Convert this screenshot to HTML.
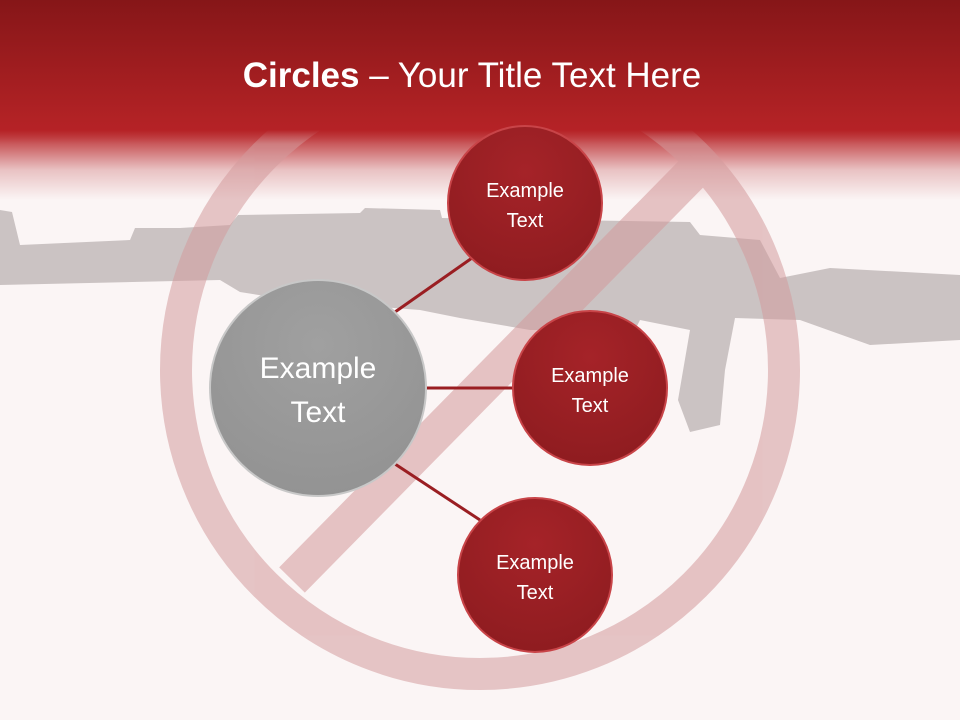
<!DOCTYPE html>
<html><head><meta charset="utf-8"><style>
body{margin:0;width:960px;height:720px;overflow:hidden;background:#fbf5f5;font-family:"Liberation Sans",sans-serif}
</style></head><body>
<svg width="960" height="720" viewBox="0 0 960 720" style="position:absolute;left:0;top:0">
<defs>
<linearGradient id="hd" x1="0" y1="0" x2="0" y2="200" gradientUnits="userSpaceOnUse">
<stop offset="0" stop-color="#861618"/>
<stop offset="0.65" stop-color="#b52226"/>
<stop offset="0.7" stop-color="#c44a4d"/>
<stop offset="0.85" stop-color="#e9c2c3"/>
<stop offset="1" stop-color="#fbf5f5"/>
</linearGradient>
<linearGradient id="hd2" x1="0" y1="0" x2="0" y2="200" gradientUnits="userSpaceOnUse">
<stop offset="0" stop-color="#861618"/>
<stop offset="0.6" stop-color="#b22225" stop-opacity="1"/>
<stop offset="0.65" stop-color="#b52226" stop-opacity="1"/>
<stop offset="0.72" stop-color="#c44a4d" stop-opacity="0"/>
</linearGradient>
<radialGradient id="rg" cx="0.5" cy="0.3" r="0.7">
<stop offset="0" stop-color="#a52328"/>
<stop offset="1" stop-color="#8f1c20"/>
</radialGradient>
<radialGradient id="gg" cx="0.5" cy="0.3" r="0.7">
<stop offset="0" stop-color="#a0a0a0"/>
<stop offset="1" stop-color="#939393"/>
</radialGradient>
</defs>
<rect x="0" y="0" width="960" height="200" fill="url(#hd)"/>
<g fill="#cbc3c3">
<path d="M0 210 L12 212 L20 245 L130 240 L135 228 L180 228 L230 225 L238 215 L360 213 L365 208 L440 210 L442 218 L690 222 L700 235 L760 240 L780 278 L830 268 L960 275 L960 340 L870 345 L800 320 L735 318 L725 370 L720 425 L690 432 L678 400 L690 330 L640 320 L630 340 L600 335 L585 330 L530 330 L460 318 L420 310 L290 300 L240 292 L220 280 L0 285 Z"/>
</g>
<g opacity="0.55">
<circle cx="480" cy="370" r="304" fill="none" stroke="#d49a9c" stroke-width="32"/>
<line x1="700" y1="165" x2="292" y2="580" stroke="#d49a9c" stroke-width="36"/>
</g>
<rect x="0" y="0" width="960" height="150" fill="url(#hd2)"/>
<text x="472" y="87" text-anchor="middle" fill="#fff" font-size="35"><tspan font-weight="bold">Circles</tspan> – Your Title Text Here</text>
<g stroke="#9a1e22" stroke-width="3">
<line x1="395" y1="312" x2="472" y2="258"/>
<line x1="425" y1="388" x2="514" y2="388"/>
<line x1="395" y1="464" x2="480" y2="520"/>
</g>
<circle cx="318" cy="388" r="108" fill="url(#gg)" stroke="#c8c8c8" stroke-width="2"/>
<circle cx="525" cy="203" r="77" fill="url(#rg)" stroke="#c84448" stroke-width="2"/>
<circle cx="590" cy="388" r="77" fill="url(#rg)" stroke="#c84448" stroke-width="2"/>
<circle cx="535" cy="575" r="77" fill="url(#rg)" stroke="#c84448" stroke-width="2"/>
<g fill="#fff" text-anchor="middle" font-size="20">
<text x="525" y="197">Example</text><text x="525" y="227">Text</text>
<text x="590" y="382">Example</text><text x="590" y="412">Text</text>
<text x="535" y="569">Example</text><text x="535" y="599">Text</text>
</g>
<g fill="#fff" text-anchor="middle" font-size="30">
<text x="318" y="378">Example</text><text x="318" y="422">Text</text>
</g>
</svg>
</body></html>
